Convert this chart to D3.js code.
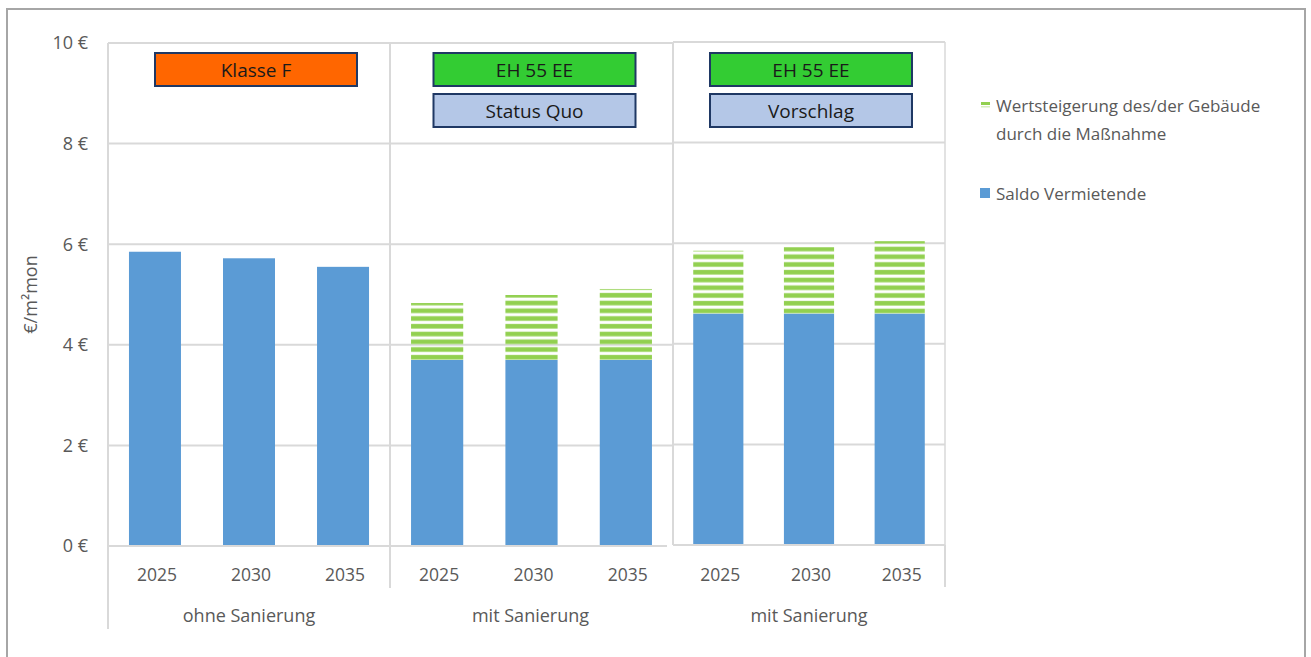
<!DOCTYPE html>
<html><head><meta charset="utf-8">
<script src="https://cdn.jsdelivr.net/npm/d3@7"></script>
<style>
html,body{margin:0;padding:0;background:#fff;}
svg{display:block;font-family:"Open Sans","Noto Sans",sans-serif;}
</style></head>
<body>
<svg id="c" width="1311" height="657"></svg>
<script>
// ---- data ----
const years = ["2025", "2030", "2035"];
const groupLabels = ["ohne Sanierung", "mit Sanierung", "mit Sanierung"];
const saldoVermietende = [[5.85, 5.72, 5.55], [3.70, 3.70, 3.70], [4.60, 4.60, 4.60]];
const wertsteigerung = [[0, 0, 0], [1.13, 1.29, 1.41], [1.25, 1.32, 1.44]];
const boxTopLabels = ["Klasse F", "EH 55 EE", "EH 55 EE"];
const boxBottomLabels = [null, "Status Quo", "Vorschlag"];
const yTicks = [0, 2, 4, 6, 8, 10];
const legendLabels = [["Wertsteigerung des/der Gebäude", "durch die Maßnahme"], ["Saldo Vermietende"]];
const yTitle = "€/m²mon";

// ---- layout ----
const svg = d3.select("#c");
const panelX = [108, 390, 673, 945];
const panelShift = [0, 0, -1];
const boxOffset = [7, 3, 2];
const grid = "#D9D9D9", txt = "#595959";
const blue = "#5B9BD5", green = "#92D050";
const boxColTop = ["#FF6600", "#33CC33", "#33CC33"];
const boxColBottom = "#B4C7E7";

// outer frame
svg.append("rect").attr("x", 7).attr("y", 9).attr("width", 1298).attr("height", 660)
  .attr("fill", "none").attr("stroke", "#A6A6A6").attr("stroke-width", 2);

const y = d3.scaleLinear().domain([0, 10]).range([546, 43]);

// y ticks
svg.append("g").selectAll("text").data(yTicks).join("text")
  .attr("x", 88).attr("y", d => y(d)).attr("dy", "0.35em")
  .attr("text-anchor", "end").attr("fill", txt).attr("font-size", 18)
  .text(d => d + " €");

// y title
svg.append("text").attr("transform", `translate(37,${(y(0) + y(10)) / 2}) rotate(-90)`)
  .attr("text-anchor", "middle").attr("fill", txt).attr("font-size", 18).text(yTitle);

const defs = svg.append("defs");

for (let p = 0; p < 3; p++) {
  const sh = panelShift[p];
  const yp = v => y(v) + sh;
  const x0 = panelX[p], x1 = panelX[p + 1];
  const x = d3.scaleBand().domain(years).range([x0, x1]).paddingInner(0.447).paddingOuter(0.223);
  const g = svg.append("g");

  // horizontal gridlines
  g.selectAll("line.h").data(yTicks.filter(d => d > 0)).join("line")
    .attr("x1", x0).attr("x2", x1).attr("y1", d => yp(d)).attr("y2", d => yp(d))
    .attr("stroke", grid).attr("stroke-width", 2);
  // vertical borders
  g.append("line").attr("x1", x0).attr("x2", x0).attr("y1", yp(10)).attr("y2", yp(0))
    .attr("stroke", grid).attr("stroke-width", 2);
  if (p === 2) g.append("line").attr("x1", x1).attr("x2", x1).attr("y1", yp(10)).attr("y2", yp(0))
    .attr("stroke", grid).attr("stroke-width", 1.5);

  // blue bars
  g.selectAll("rect.b").data(years).join("rect")
    .attr("x", d => x(d)).attr("width", x.bandwidth())
    .attr("y", (d, i) => yp(saldoVermietende[p][i]))
    .attr("height", (d, i) => yp(0) - yp(saldoVermietende[p][i]))
    .attr("fill", blue);

  // striped green segments
  years.forEach((yr, i) => {
    const w = wertsteigerung[p][i];
    if (w <= 0) return;
    const base = yp(saldoVermietende[p][i]);
    const top = yp(saldoVermietende[p][i] + w);
    const id = `pat${p}_${i}`;
    const pat = defs.append("pattern").attr("id", id).attr("patternUnits", "userSpaceOnUse")
      .attr("x", 0).attr("y", base).attr("width", 10).attr("height", 7.75);
    pat.append("rect").attr("x", 0).attr("y", 2.5).attr("width", 10).attr("height", 5.25).attr("fill", "#D6EDBE");
    pat.append("rect").attr("x", 0).attr("y", 3).attr("width", 10).attr("height", 4.25).attr("fill", green);
    g.append("rect").attr("x", x(yr)).attr("width", x.bandwidth())
      .attr("y", top).attr("height", base - top).attr("fill", `url(#${id})`);
  });

  // baseline
  g.append("line").attr("x1", x0).attr("x2", p === 1 ? x1 - 6 : x1).attr("y1", yp(0)).attr("y2", yp(0))
    .attr("stroke", grid).attr("stroke-width", 2);

  // year labels
  g.selectAll("text.yr").data(years).join("text")
    .attr("x", d => x(d) + x.bandwidth() / 2 + 2).attr("y", 581)
    .attr("text-anchor", "middle").attr("fill", txt).attr("font-size", 17.5).text(d => d);

  // group label
  g.append("text").attr("x", (x0 + x1) / 2 + (p === 1 ? -1 : 0)).attr("y", 622)
    .attr("text-anchor", "middle").attr("fill", txt).attr("font-size", 18).text(groupLabels[p]);

  // label boxes
  const bc = (x0 + x1) / 2 + boxOffset[p];
  const drawBox = (by, fill, label) => {
    g.append("rect").attr("x", bc - 101).attr("y", by + 1).attr("width", 202).attr("height", 33)
      .attr("fill", fill).attr("stroke", "#1F3864").attr("stroke-width", 2);
    g.append("text").attr("x", bc).attr("y", by + 18).attr("dy", "0.35em")
      .attr("text-anchor", "middle").attr("fill", "#1a1a1a").attr("font-size", 19).text(label);
  };
  drawBox(52, boxColTop[p], boxTopLabels[p]);
  if (boxBottomLabels[p]) drawBox(93, boxColBottom, boxBottomLabels[p]);
}

// category axis separators
[[108, 546, 629], [390, 546, 588], [945, 545, 587]].forEach(([lx, ya, yb]) => {
  svg.append("line").attr("x1", lx).attr("x2", lx).attr("y1", ya).attr("y2", yb)
    .attr("stroke", grid).attr("stroke-width", 2);
});

// legend
const lg = svg.append("g");
lg.append("rect").attr("x", 981).attr("y", 102).attr("width", 9).attr("height", 3).attr("fill", green);
lg.append("rect").attr("x", 981).attr("y", 106).attr("width", 9).attr("height", 1.5).attr("fill", "#D6EDBE");
legendLabels[0].forEach((t, i) => lg.append("text").attr("x", 996).attr("y", 106 + i * 28).attr("dy", "0.35em")
  .attr("fill", txt).attr("font-size", 17).text(t));
lg.append("rect").attr("x", 980).attr("y", 188).attr("width", 10).attr("height", 10).attr("fill", blue);
legendLabels[1].forEach((t, i) => lg.append("text").attr("x", 996).attr("y", 194).attr("dy", "0.35em")
  .attr("fill", txt).attr("font-size", 17).text(t));
</script>
</body></html>
